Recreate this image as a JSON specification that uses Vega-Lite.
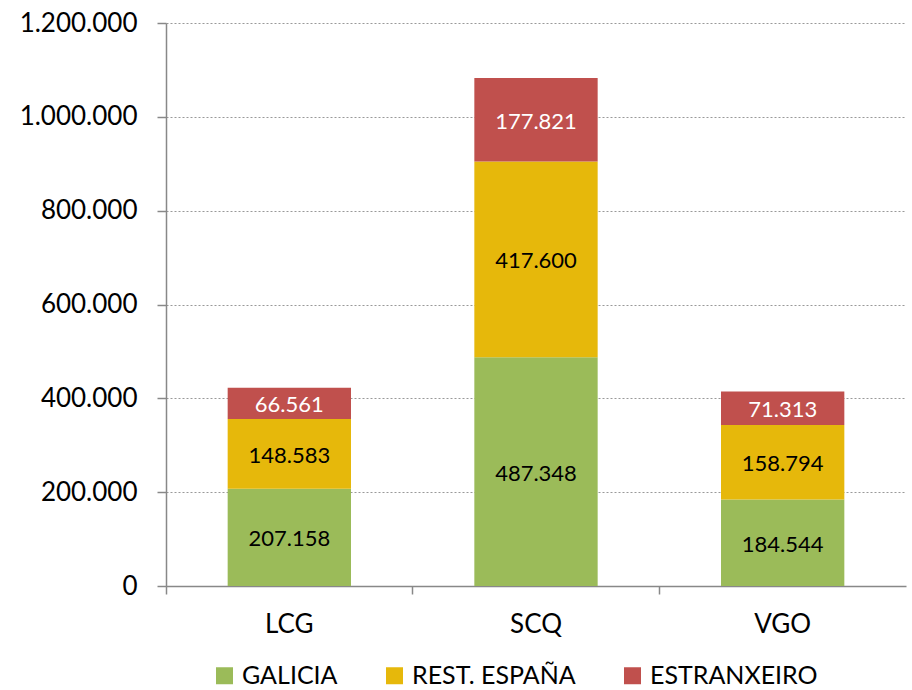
{
  "$schema": "https://vega.github.io/schema/vega-lite/v6.json",
  "width": 740,
  "height": 563,
  "autosize": {"type": "none"},
  "padding": {"left": 166, "top": 23, "right": 6, "bottom": 104},
  "background": "white",
  "config": {
    "locale": {"number": {"decimal": ",", "thousands": ".", "grouping": [3], "currency": ["", " €"]}},
    "font": "Lato",
    "view": {"stroke": null}
  },
  "data": {"values": [
    {"aeroporto": "LCG", "orixe": "GALICIA", "valor": 207158},
    {"aeroporto": "LCG", "orixe": "REST. ESPAÑA", "valor": 148583},
    {"aeroporto": "LCG", "orixe": "ESTRANXEIRO", "valor": 66561},
    {"aeroporto": "SCQ", "orixe": "GALICIA", "valor": 487348},
    {"aeroporto": "SCQ", "orixe": "REST. ESPAÑA", "valor": 417600},
    {"aeroporto": "SCQ", "orixe": "ESTRANXEIRO", "valor": 177821},
    {"aeroporto": "VGO", "orixe": "GALICIA", "valor": 184544},
    {"aeroporto": "VGO", "orixe": "REST. ESPAÑA", "valor": 158794},
    {"aeroporto": "VGO", "orixe": "ESTRANXEIRO", "valor": 71313}
  ]},
  "transform": [
    {"stack": "valor", "groupby": ["aeroporto"], "as": ["y0", "y1"], "offset": "zero"}
  ],
  "layer": [
    {
      "mark": {"type": "bar"},
      "encoding": {
        "x": {
          "field": "aeroporto", "type": "nominal", "title": null,
          "scale": {"paddingInner": 0.5, "paddingOuter": 0.25},
          "axis": {
            "labelAngle": 0, "labelFontSize": 26, "labelColor": "#000000", "labelFont": "Lato",
            "labelPadding": 17, "tickSize": 8, "bandPosition": -0.5,
            "domainColor": "#888888", "tickColor": "#888888", "domainWidth": 1.5, "tickWidth": 1.5
          }
        },
        "y": {
          "field": "y0", "type": "quantitative", "title": null,
          "scale": {"domain": [0, 1200000], "nice": false},
          "axis": {
            "values": [0, 200000, 400000, 600000, 800000, 1000000, 1200000],
            "format": ",d", "labelFontSize": 26, "labelColor": "#000000", "labelFont": "Lato",
            "labelPadding": 20, "tickSize": 9,
            "domainColor": "#888888", "tickColor": "#888888", "domainWidth": 1.5, "tickWidth": 1.5,
            "gridColor": "#999999", "gridDash": [2, 2], "gridWidth": 1
          }
        },
        "y2": {"field": "y1"},
        "color": {
          "field": "orixe", "type": "nominal",
          "scale": {"domain": ["GALICIA", "REST. ESPAÑA", "ESTRANXEIRO"], "range": ["#9BBB59", "#E6B80B", "#C0504D"]},
          "legend": {
            "title": null, "orient": "none", "direction": "horizontal",
            "legendX": 46, "legendY": 640,
            "symbolType": "square", "symbolSize": 289, "symbolStrokeWidth": 0,
            "labelFontSize": 25, "labelColor": "#000000", "labelFont": "Lato", "labelLimit": 400,
            "columnPadding": 44, "labelOffset": 5
          }
        }
      }
    },
    {
      "transform": [
        {"fold": ["y0", "y1"], "as": ["k", "v"]},
        {"aggregate": [{"op": "mean", "field": "v", "as": "mid"}], "groupby": ["aeroporto", "orixe", "valor"]}
      ],
      "mark": {"type": "text", "fontSize": 22, "font": "Lato", "baseline": "middle", "dy": 2},
      "encoding": {
        "x": {"field": "aeroporto", "type": "nominal"},
        "y": {"field": "mid", "type": "quantitative"},
        "text": {"field": "valor", "type": "quantitative", "format": ",d"},
        "color": {"condition": {"test": "datum.orixe === 'ESTRANXEIRO'", "value": "#FFFFFF"}, "value": "#000000"}
      }
    }
  ]
}
